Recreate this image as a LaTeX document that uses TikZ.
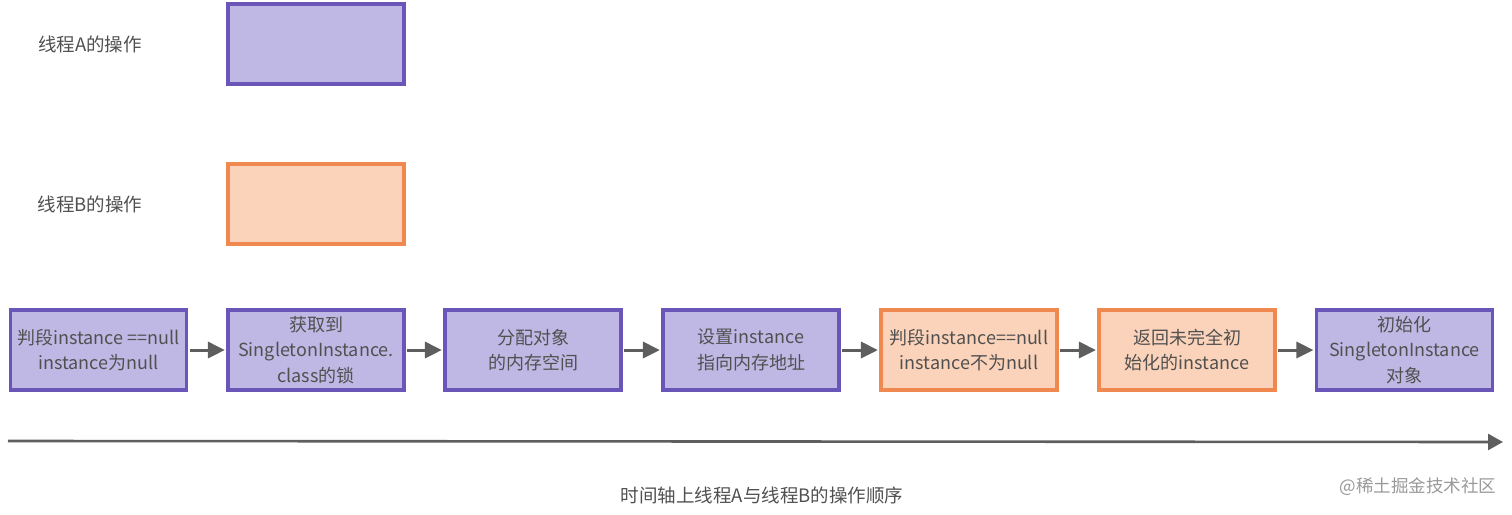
\documentclass[tikz,border=0pt]{standalone}
\usepackage{fontspec}
\setmainfont{Noto Sans CJK SC}
\usetikzlibrary{arrows.meta,shadows}
\definecolor{pfill}{HTML}{C0B8E4}
\definecolor{pdraw}{HTML}{6A55B9}
\definecolor{ofill}{HTML}{FBD3BA}
\definecolor{odraw}{HTML}{F0894F}
\definecolor{txt}{HTML}{505050}
\definecolor{arr}{HTML}{5E5E5E}
\tikzset{
  base/.style={minimum width=176pt, minimum height=80pt, line width=3.2pt, align=center, text=txt, font=\fontsize{18}{25.5}\selectfont, inner sep=1pt,
    drop shadow={shadow xshift=1pt, shadow yshift=-2pt, opacity=0.25}},
  abox/.style={base, draw=pdraw, fill=pfill},
  bbox/.style={base, draw=odraw, fill=ofill},
  lbl/.style={text=txt, font=\fontsize{18.5}{22}\selectfont},
  conn/.style={draw=arr, line width=3pt, -{Triangle[length=17pt,width=16pt]}, shorten <=1.5pt, shorten >=1.5pt},
}
\begin{document}
\begin{tikzpicture}[x=1pt,y=-1pt]
\useasboundingbox (0,0) rectangle (1512,514);
\node[lbl] (la) at (90,44) {线程A的操作};
\node[lbl] (lb) at (90,204) {线程B的操作};
\node[abox] (ka) at (316,44) {};
\node[bbox] (kb) at (316,204) {};
\node[abox] (n1) at (98.5,350) {判段instance ==null\\instance为null};
\node[abox] (n2) at (316,350) {获取到\\SingletonInstance.\\class的锁};
\node[abox] (n3) at (533,350) {分配对象\\的内存空间};
\node[abox] (n4) at (751,350) {设置instance\\指向内存地址};
\node[bbox] (n5) at (969,350) {判段instance==null\\instance不为null};
\node[bbox] (n6) at (1187,350) {返回未完全初\\始化的instance};
\node[abox] (n7) at (1404.5,350) {初始化\\SingletonInstance\\对象};
\foreach \a/\b in {n1/n2,n2/n3,n3/n4,n4/n5,n5/n6,n6/n7}{
  \draw[conn] (\a.east) -- (\b.west);
}
\coordinate (t0) at (8,441);
\coordinate (t1) at (1503,442);
\draw[draw=arr, line width=2.6pt, -{Triangle[length=15pt,width=16pt]}] (t0) -- (t1);
\node[lbl] (cap) at (762,495) {时间轴上线程A与线程B的操作顺序};
\node[text=black!40, font=\fontsize{17.5}{20}\selectfont] (wm) at (1418,487) {@稀土掘金技术社区};
\end{tikzpicture}
\end{document}
